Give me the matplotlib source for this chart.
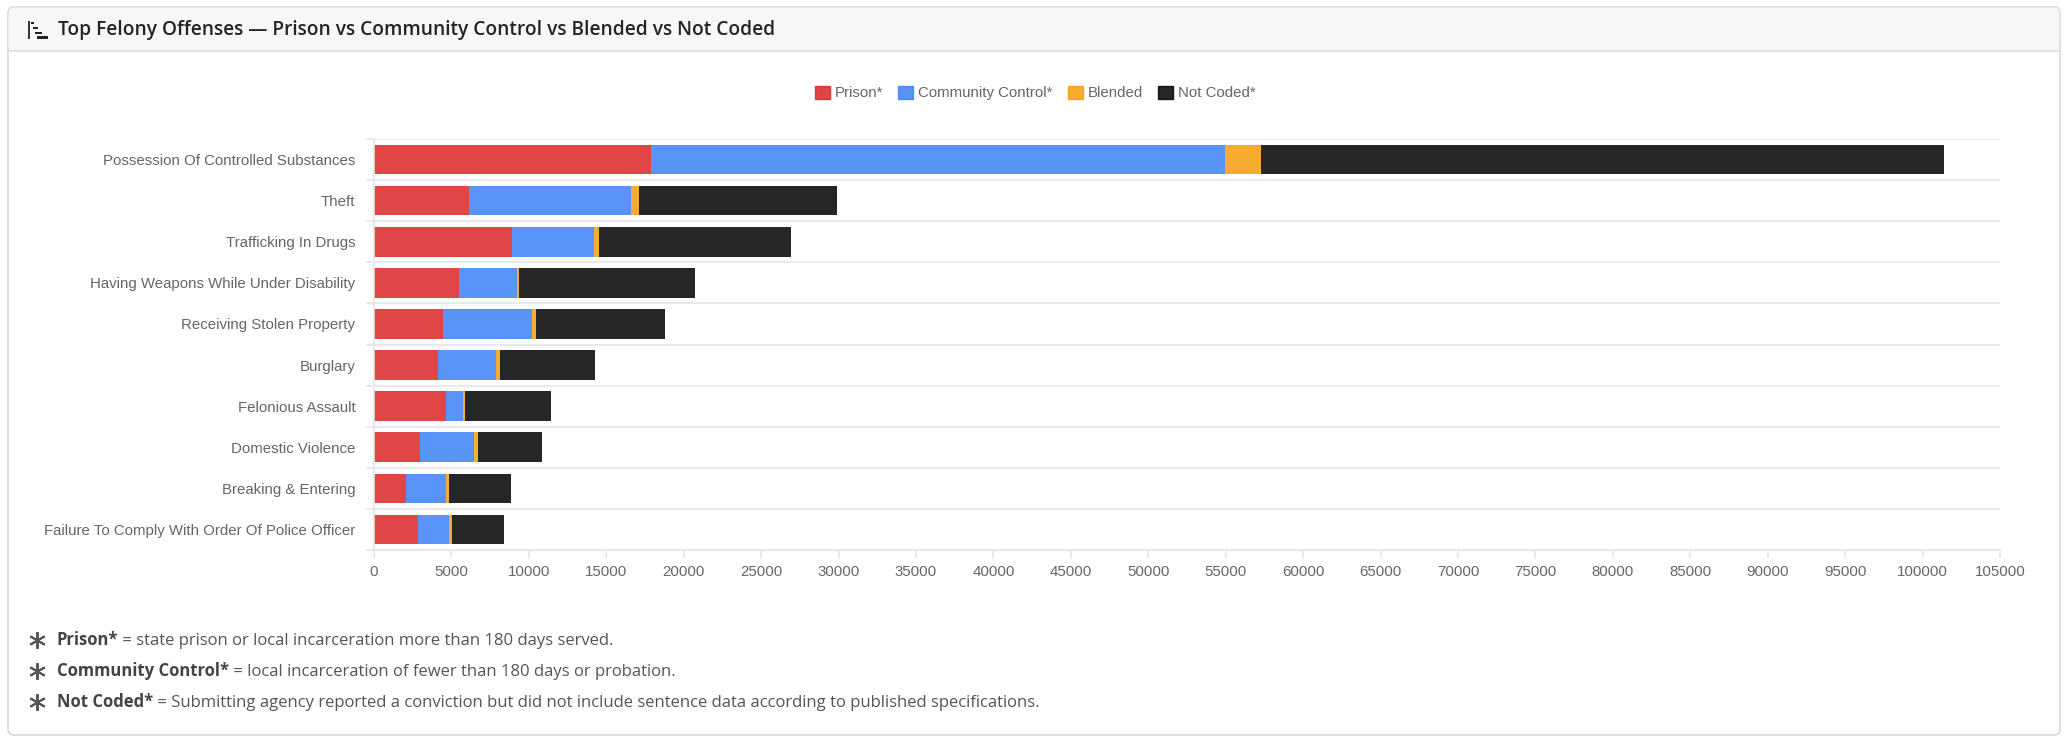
import matplotlib
matplotlib.use("Agg")
import matplotlib.pyplot as plt
from matplotlib.patches import FancyBboxPatch, Rectangle, Patch
from matplotlib.ticker import MultipleLocator

# data
categories = [
    "Possession Of Controlled Substances",
    "Theft",
    "Trafficking In Drugs",
    "Having Weapons While Under Disability",
    "Receiving Stolen Property",
    "Burglary",
    "Felonious Assault",
    "Domestic Violence",
    "Breaking & Entering",
    "Failure To Comply With Order Of Police Officer",
]
prison = [17870, 6140, 8910, 5470, 4440, 4110, 4630, 2970, 2070, 2820]
community = [37100, 10460, 5280, 3770, 5750, 3770, 1140, 3490, 2580, 2020]
blended = [2310, 540, 320, 150, 300, 240, 100, 240, 180, 170]
not_coded = [44100, 12790, 12420, 11320, 8330, 6120, 5560, 4130, 4000, 3380]

series_names = ["Prison*", "Community Control*", "Blended", "Not Coded*"]
series_colors = ["#dc2626", "#3b82f6", "#f59e0b", "#000000"]

title = "Top Felony Offenses \u2014 Prison vs Community Control vs Blended vs Not Coded"
notes = [
    ("Prison*", " = state prison or local incarceration more than 180 days served."),
    ("Community Control*", " = local incarceration of fewer than 180 days or probation."),
    ("Not Coded*", " = Submitting agency reported a conviction but did not include sentence data according to published specifications."),
]

W, H = 2068, 742
fig = plt.figure(figsize=(W / 100, H / 100), dpi=100)

# pixel-space layer for the card decoration
deco = fig.add_axes([0, 0, 1, 1], zorder=0)
deco.set_xlim(0, W)
deco.set_ylim(H, 0)
deco.axis("off")
deco.add_patch(FancyBboxPatch((8, 7), 2052, 728, boxstyle="round,pad=0,rounding_size=6",
                              fc="white", ec="#d9d9d9", lw=1.2))
deco.add_patch(FancyBboxPatch((8.6, 7.6), 2050.8, 43, boxstyle="round,pad=0,rounding_size=5.5",
                              fc="#f7f7f7", ec="none"))
deco.add_patch(Rectangle((8.6, 40), 2050.8, 11, fc="#f7f7f7", ec="none"))
deco.plot([8.6, 2059.4], [51, 51], color="#dcdcdc", lw=1.2)

# header icon (stepped bars)
deco.plot([29, 29], [21, 39], color="#212529", lw=1.3, solid_capstyle="butt")
for x0, x1, y in [(31, 34, 23), (33, 38, 28), (35, 42, 33), (37, 48, 37.5)]:
    deco.add_patch(Rectangle((x0, y - 1.3), x1 - x0, 2.6, fc="#212529", ec="none"))
deco.text(58, 30, title, fontsize=13.75, family="Open Sans", weight="semibold",
          color="#212529", va="center", ha="left")

# footnotes
for i, (bold, rest) in enumerate(notes):
    y = 640 + i * 31
    deco.plot([37], [y - 0.5], marker=(6, 2, 0), ms=12, mew=1.4, color="#555555")
    t = deco.text(57, y, bold, fontsize=12.0, family="Open Sans", weight="bold",
                  color="#444444", va="center", ha="left")
    deco.annotate(rest, xy=(1, 0), xycoords=t, va="bottom", ha="left",
                  fontsize=12.0, family="Open Sans", color="#555555")

# main chart
left, right, top, bottom = 374, 2000, 139, 550
ax = fig.add_axes([left / W, 1 - bottom / H, (right - left) / W, (bottom - top) / H], zorder=1)
ax.set_facecolor("none")

ypos = list(range(len(categories)))
base = [0] * len(categories)
for vals, name, col in zip([prison, community, blended, not_coded], series_names, series_colors):
    ax.barh(ypos, vals, left=base, height=0.72, color=col, alpha=0.85, lw=0, label=name)
    base = [b + v for b, v in zip(base, vals)]

ax.set_xlim(0, 105000)
ax.set_ylim(len(categories) - 0.5, -0.5)
ax.xaxis.set_major_locator(MultipleLocator(5000))
ax.set_yticks(ypos)
ax.set_yticklabels(categories)
ax.set_yticks([i - 0.5 for i in range(len(categories) + 1)], minor=True)
ax.yaxis.grid(True, which="minor", color="#e5e5e5", lw=1.2)
ax.set_axisbelow(True)

for s in ["top", "right"]:
    ax.spines[s].set_visible(False)
ax.spines["left"].set_color("#e5e5e5")
ax.spines["bottom"].set_color("#e5e5e5")
ax.spines["left"].set_linewidth(1.2)
ax.spines["bottom"].set_linewidth(1.2)

ax.tick_params(axis="x", which="major", length=5.5, width=1.2, color="#e5e5e5",
               labelsize=10.8, labelcolor="#666666", pad=5)
ax.tick_params(axis="y", which="major", length=0, labelsize=10.8, labelcolor="#666666", pad=13.5)
ax.tick_params(axis="y", which="minor", length=5.5, width=1.2, color="#e5e5e5")
for lab in ax.get_xticklabels() + ax.get_yticklabels():
    lab.set_family("Liberation Sans")

handles = [Patch(fc=c, ec=c, alpha=0.85) for c in series_colors]
leg = fig.legend(handles, series_names, loc="center", bbox_to_anchor=(1035 / W, 1 - 93 / H),
                 ncol=4, frameon=False, handlelength=1.0, handleheight=1.0,
                 handletextpad=0.33, columnspacing=1.0,
                 prop={"family": "Liberation Sans", "size": 10.8})
for t in leg.get_texts():
    t.set_color("#666666")

fig.savefig("out.png", dpi=100)
